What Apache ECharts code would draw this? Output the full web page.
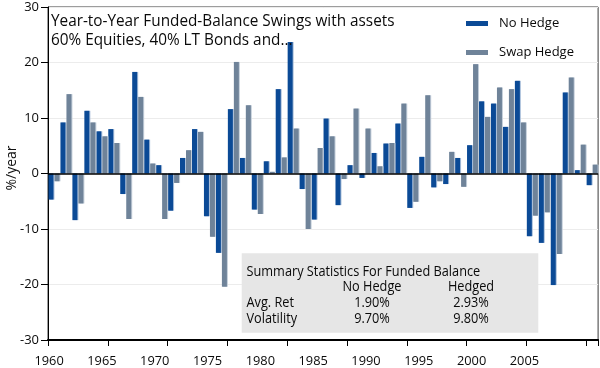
<!DOCTYPE html>
<html>
<head>
<meta charset="utf-8">
<script src="https://cdn.jsdelivr.net/npm/echarts@6/dist/echarts.min.js"></script>
<style>
html,body{margin:0;padding:0;background:#fff;}
#chart{width:600px;height:368px;}
</style>
</head>
<body>
<div id="chart"></div>
<script>
// ---- data ----
var years = ['1960','1961','1962','1963','1964','1965','1966','1967','1968','1969',
             '1970','1971','1972','1973','1974','1975','1976','1977','1978','1979',
             '1980','1981','1982','1983','1984','1985','1986','1987','1988','1989',
             '1990','1991','1992','1993','1994','1995','1996','1997','1998','1999',
             '2000','2001','2002','2003','2004','2005'];
var noHedge = [-4.7, 9.2, -8.4, 11.3, 7.6, 8.0, -3.7, 18.3, 6.1, 1.5,
               -6.7, 2.8, 8.0, -7.7, -14.3, 11.6, 2.8, -6.5, 2.2, 15.2,
               23.7, -2.8, -8.3, 9.9, -5.7, 1.5, -0.8, 3.7, 5.4, 9.0,
               -6.2, 3.0, -2.5, -1.9, 2.8, 5.1, 13.0, 12.6, 8.4, 16.7,
               -11.3, -12.5, -20.1, 14.6, 0.6, -2.1];
var swapHedge = [-1.4, 14.3, -5.4, 9.2, 6.7, 5.5, -8.2, 13.8, 1.8, -8.2,
                 -1.7, 4.2, 7.5, -11.4, -20.4, 20.1, 12.3, -7.3, 0.3, 2.9,
                 8.1, -10.0, 4.6, 6.7, -1.0, 11.7, 8.1, 1.3, 5.5, 12.6,
                 -5.1, 14.1, -1.4, 3.9, -2.4, 19.7, 10.2, 15.5, 15.2, 9.2,
                 -7.6, -7.0, -14.5, 17.3, 5.2, 1.6];
var xTickLabels = ['1960','1965','1970','1975','1980','1985','1990','1995','2000','2005'];
var seriesNames = ['No Hedge', 'Swap Hedge'];
var titleLines = ['Year-to-Year Funded-Balance Swings with assets', '60% Equities, 40% LT Bonds and...'];
var statsTitle = 'Summary Statistics For Funded Balance';
var statsCols = ['No Hedge', 'Hedged'];
var statsRows = ['Avg. Ret', 'Volatility'];
var statsNoHedge = ['1.90%', '9.70%'];
var statsHedged = ['2.93%', '9.80%'];
var yName = '%/year';

// ---- layout ----
var FONT = "'Open Sans', sans-serif";
var BLUE = '#0b4a96';
var GRAY = '#6f8399';
var SUB = 24; // label sub-slots per label step
var labelSlots = [];
for (var i = 0; i < 250; i++) {
  labelSlots.push(i % SUB === 0 && (i / SUB) < xTickLabels.length ? xTickLabels[i / SUB] : '');
}

var chart = echarts.init(document.getElementById('chart'), null, {renderer: 'canvas'});

var txt = function (x, y, s, align, size, sx) {
  return {type: 'text', x: x, y: y, scaleX: sx || 0.91, silent: true, z: 100,
          style: {text: s, fill: '#0a0a0a', font: (size || 14) + 'px ' + FONT,
                  align: align || 'left', verticalAlign: 'middle'}};
};

var graphics = [
  txt(51, 21.5, titleLines[0], 'left', 16, 0.957),
  txt(51, 40.5, titleLines[1], 'left', 16, 0.957),
  {type: 'text', x: 12, y: 168, rotation: Math.PI / 2, silent: true,
   style: {text: yName, fill: '#111', font: '14px ' + FONT, align: 'center', verticalAlign: 'middle'}},
  {type: 'rect', shape: {x: 241.7, y: 253.3, width: 296.6, height: 79.4}, z: 50, silent: true,
   style: {fill: '#e6e6e6'}},
  txt(246.5, 272.5, statsTitle),
  txt(372, 287, statsCols[0], 'center'),
  txt(471, 287, statsCols[1], 'center'),
  txt(246.5, 303.5, statsRows[0]),
  txt(372, 303.5, statsNoHedge[0], 'center'),
  txt(471, 303.5, statsHedged[0], 'center'),
  txt(246.5, 319, statsRows[1]),
  txt(372, 319, statsNoHedge[1], 'center'),
  txt(471, 319, statsHedged[1], 'center')
];

var option = {
  animation: false,
  backgroundColor: '#fff',
  grid: {left: 48, right: 1, top: 7, bottom: 28, show: true, borderColor: '#3a3a3a', borderWidth: 1, backgroundColor: 'transparent'},
  legend: {
    orient: 'vertical', left: 461, top: 10.5, itemWidth: 22, itemHeight: 5, itemGap: 13,
    icon: 'rect',
    textStyle: {fontFamily: FONT, fontSize: 13, color: '#0a0a0a', lineHeight: 16, padding: [0, 0, 0, 6]},
    data: seriesNames
  },
  xAxis: [
    {
      type: 'category', data: years, boundaryGap: true,
      axisLine: {onZero: false, lineStyle: {color: '#000', width: 2}},
      axisTick: {show: true, length: 6, interval: function (idx) { return idx % 5 === 0; },
                 lineStyle: {color: '#000', width: 1}},
      axisLabel: {show: false},
      splitLine: {show: false}
    },
    {
      type: 'category', data: labelSlots, boundaryGap: true, position: 'bottom',
      axisLine: {show: false, onZero: false}, axisTick: {show: false},
      axisLabel: {show: true, interval: 0, margin: 15, fontFamily: FONT, fontSize: 12.8, color: '#0a0a0a'},
      splitLine: {show: false}
    }
  ],
  yAxis: {
    type: 'value', min: -30, max: 30, interval: 10,
    axisLine: {show: true, lineStyle: {color: '#000', width: 1}},
    axisTick: {show: true, length: 7, lineStyle: {color: '#000'}},
    axisLabel: {margin: 9, fontFamily: FONT, fontSize: 13, color: '#0a0a0a'},
    splitLine: {show: true, lineStyle: {color: '#ececec', width: 1}}
  },
  series: [
    {
      name: seriesNames[0], type: 'bar', data: noHedge, xAxisIndex: 0,
      barWidth: 5, barGap: '20%',
      itemStyle: {color: BLUE, shadowColor: '#a9bfdb', shadowOffsetX: 1, shadowBlur: 0},
      markLine: {silent: true, symbol: 'none', label: {show: false},
                 lineStyle: {color: '#000', width: 1.5, type: 'solid'},
                 data: [{yAxis: 0}]}
    },
    {
      name: seriesNames[1], type: 'bar', data: swapHedge, xAxisIndex: 0,
      barWidth: 5, barGap: '20%',
      itemStyle: {color: GRAY, shadowColor: '#c3ceda', shadowOffsetX: 1, shadowBlur: 0}
    }
  ],
  graphic: graphics
};
chart.setOption(option);
</script>
</body>
</html>
